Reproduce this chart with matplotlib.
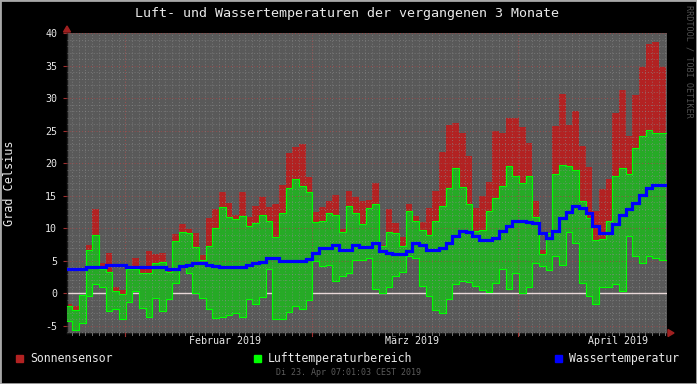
import numpy as np
import matplotlib
matplotlib.use('Agg')
import matplotlib.pyplot as plt
from matplotlib.patches import Rectangle, Polygon

# ---------------- data (daily values, day 0 = 23 Jan 2019) ----------------
sun = [-1.7, -1.9, -0.2, 7.4, 13.0, 4.6, 6.2, 0.9, 0.5, 3.8,
       5.4, 3.7, 6.5, 6.0, 6.2, 3.5, 9.2, 10.7, 9.9, 9.3,
       5.9, 11.6, 13.0, 15.6, 13.9, 12.0, 15.6, 11.7, 13.5, 14.8,
       13.3, 13.8, 16.7, 21.6, 22.5, 22.9, 17.9, 12.5, 13.3, 14.2,
       15.2, 9.9, 15.7, 14.8, 14.2, 14.4, 17.0, 7.5, 13.0, 10.8,
       8.7, 13.8, 11.9, 10.9, 13.1, 15.7, 21.8, 25.9, 26.2, 24.7,
       21.2, 13.1, 15.0, 17.2, 24.9, 24.6, 26.9, 26.9, 25.6, 23.1,
       14.2, 6.7, 9.3, 25.8, 30.7, 25.9, 28.0, 22.7, 19.4, 12.6,
       16.1, 17.6, 27.7, 31.3, 24.2, 30.5, 34.8, 38.4, 38.7, 34.8]

air_max = [-2.0, -2.6, -0.3, 6.6, 8.9, 3.8, 3.3, 0.4, -0.1, 3.8,
           3.8, 3.2, 3.2, 4.7, 4.8, 3.3, 8.0, 9.4, 9.3, 7.1,
           5.2, 7.3, 10.1, 13.3, 11.8, 11.5, 11.9, 10.3, 10.8, 12.0,
           11.2, 8.6, 12.3, 16.2, 17.6, 16.5, 15.6, 10.9, 11.1, 12.3,
           12.1, 9.4, 13.5, 12.4, 10.6, 13.1, 13.7, 7.3, 9.4, 9.3,
           7.3, 12.6, 11.1, 9.7, 8.9, 11.1, 13.5, 16.2, 19.3, 16.4,
           13.7, 9.6, 9.7, 12.6, 14.7, 16.5, 19.6, 18.0, 17.0, 18.1,
           11.8, 6.0, 9.3, 18.4, 19.8, 19.6, 19.0, 14.2, 11.6, 8.2,
           8.3, 11.1, 18.1, 19.3, 18.3, 22.3, 24.2, 25.1, 24.6, 24.7]

air_min = [-4.2, -5.7, -4.5, -0.4, 1.4, 0.9, -2.7, -2.4, -3.9, -1.4,
           0.3, -2.2, -3.7, -0.7, -2.7, -0.9, 1.6, 4.4, 3.1, 0.0,
           -0.7, -2.4, -3.8, -3.7, -3.4, -3.1, -3.7, -0.9, -1.7, -0.5,
           3.7, -4.0, -3.9, -2.9, -1.9, -2.4, -1.0, 5.0, 4.2, 4.4,
           1.9, 2.7, 3.2, 5.2, 5.1, 5.5, 0.7, 0.1, 0.9, 2.7,
           3.3, 5.8, 5.5, 1.1, -0.4, -2.6, -3.1, -0.8, 1.5, 1.9,
           1.7, 1.1, 0.5, 0.2, 1.6, 3.7, 0.7, 3.2, 0.0, 0.9,
           4.6, 4.2, 3.6, 5.8, 4.4, 9.4, 7.8, 1.6, -0.4, -1.7,
           0.9, 1.0, 1.5, 0.4, 8.8, 5.8, 4.7, 5.8, 5.5, 5.1]

water = [3.8, 3.8, 3.8, 4.0, 4.0, 4.0, 4.3, 4.3, 4.3, 4.1,
         4.1, 4.1, 4.1, 4.1, 4.1, 3.8, 3.8, 4.2, 4.4, 4.6,
         4.6, 4.4, 4.2, 4.1, 4.1, 4.1, 4.1, 4.4, 4.6, 4.8,
         5.5, 5.5, 5.0, 5.0, 5.0, 5.0, 5.3, 6.2, 6.9, 6.9,
         7.4, 6.7, 6.7, 7.5, 7.2, 7.2, 7.7, 6.5, 6.2, 6.1,
         6.1, 6.5, 7.7, 7.4, 6.7, 6.7, 7.0, 7.8, 8.8, 9.6,
         9.5, 8.8, 8.2, 8.2, 8.5, 9.6, 10.3, 11.1, 11.1, 11.0,
         10.8, 9.3, 8.5, 9.6, 11.6, 12.5, 13.4, 13.1, 12.3, 10.3,
         9.3, 9.3, 10.6, 12.1, 12.9, 13.9, 15.2, 16.2, 16.7, 16.7]

month_starts = [8.75, 36.75, 67.71]
month_labels = ['Februar 2019', 'März 2019', 'April 2019']
y_ticks = [-5, 0, 5, 10, 15, 20, 25, 30, 35, 40]
legend_labels = ['Sonnensensor', 'Lufttemperaturbereich', 'Wassertemperatur']
title = 'Luft- und Wassertemperaturen der vergangenen 3 Monate'
ylabel = 'Grad Celsius'
footer = 'Di 23. Apr 07:01:03 CEST 2019'
watermark = 'RRDTOOL / TOBI OETIKER'

# ---------------- style ----------------
MONO = 'DejaVu Sans Mono'
C_BG = '#000000'
C_PLOT = '#595959'
C_RED = '#b22222'
C_GREEN = '#26aa26'
C_LGREEN = '#00ff00'
C_BLUE = '#0000ff'
C_TXT = '#e8e8e8'
C_GRID = '#8c8c8c'
C_MGRID = '#a04848'

W, H = 697, 384
fig = plt.figure(figsize=(W / 100, H / 100), dpi=100, facecolor=C_BG)
L, R, T, B = 67, 667, 33, 333
ax = fig.add_axes([L / W, (H - B) / H, (R - L) / W, (B - T) / H])
ax.set_facecolor(C_PLOT)

n = len(sun)
ndays = 90.0
edges = np.clip(np.arange(n + 1) - 0.21, 0, None)


def ext(v):
    v = np.asarray(v, dtype=float)
    return np.append(v, v[-1])


sun_a = np.asarray(sun, float)
mx = np.asarray(air_max, float)
mn = np.asarray(air_min, float)

# zero rule (below the areas)
ax.axhline(0, color='#e8d8d8', lw=1.0, zorder=1)

# sun sensor area
ax.fill_between(edges, ext(mx), ext(np.maximum(sun_a, mx)), step='post',
                color=C_RED, lw=0, zorder=2)
# air temperature range
ax.fill_between(edges, ext(mn), ext(mx), step='post', color=C_GREEN,
                lw=0, zorder=3)

# grid (drawn on top of areas)
for v in np.arange(-6, 41, 1):
    major = (v % 5 == 0)
    if v == 0:
        continue
    ax.axhline(v, color=C_MGRID if major else C_GRID, lw=0.7,
               dashes=(1, 2), alpha=0.9 if major else 0.6, zorder=4)
first_midnight = month_starts[0] % 1.0
for d in np.arange(first_midnight, ndays, 1.0):
    ax.axvline(d, color=C_GRID, lw=0.7, dashes=(1, 2), alpha=0.6, zorder=4)
for m in month_starts:
    ax.axvline(m, color=C_MGRID, lw=0.7, dashes=(1, 2), alpha=0.9, zorder=4)

# bright green boundary lines
ax.step(edges, ext(mn), where='post', color=C_LGREEN, lw=0.8, zorder=5)
ax.step(edges, ext(mx), where='post', color=C_LGREEN, lw=0.8, zorder=5)
# water temperature
ax.step(edges, ext(water), where='post', color=C_BLUE, lw=2.3, zorder=6,
        solid_joinstyle='miter')

ax.set_xlim(0, ndays)
ax.set_ylim(-6.1, 40.05)

for s in ['top', 'right']:
    ax.spines[s].set_visible(False)
for s in ['left', 'bottom']:
    ax.spines[s].set_color('#1a1a1a')
    ax.spines[s].set_linewidth(1.0)

ax.set_yticks(y_ticks)
ax.set_yticklabels([str(t) for t in y_ticks], fontfamily=MONO, fontsize=7.2,
                   color=C_TXT)
ax.tick_params(axis='y', length=3, width=0.8, color='#a03030', pad=4)
ax.set_xticks([])

# month labels
xt = ax.get_xaxis_transform()
for m, lab in zip(month_starts, month_labels):
    ax.text(m + 15, -(341 - B) / (B - T), lab, transform=xt, ha='center',
            va='center', fontfamily=MONO, fontsize=7.2, color=C_TXT)
# small ticks at bottom
for d in np.arange(first_midnight, ndays, 1.0):
    ax.plot([d, d], [0, -2 / (B - T)], transform=xt, color='#707070',
            lw=0.7, clip_on=False, zorder=7)
for m in month_starts:
    ax.plot([m, m], [0, -3 / (B - T)], transform=xt, color='#a03030',
            lw=0.8, clip_on=False, zorder=7)

# axis arrows
ax.add_patch(Polygon([[-3.5 / (R - L), 1.0 + 1 / (B - T)],
                      [3.5 / (R - L), 1.0 + 1 / (B - T)],
                      [0, 1.0 + 7 / (B - T)]], closed=True,
                     transform=ax.transAxes, color='#a02020',
                     clip_on=False, zorder=8))
ax.add_patch(Polygon([[1.0 + 1 / (R - L), -3.5 / (B - T)],
                      [1.0 + 1 / (R - L), 3.5 / (B - T)],
                      [1.0 + 7 / (R - L), 0]], closed=True,
                     transform=ax.transAxes, color='#a02020',
                     clip_on=False, zorder=8))

# texts
fig.text(347 / W, 1 - 14 / H, title, ha='center', va='center',
         fontfamily=MONO, fontsize=9.6, color=C_TXT)
fig.text(10 / W, 1 - 183 / H, ylabel, ha='center', va='center',
         rotation=90, fontfamily=MONO, fontsize=8.5, color=C_TXT)
fig.text(349 / W, 1 - 372.5 / H, footer, ha='center', va='center',
         fontfamily=MONO, fontsize=6.0, color='#5c5c5c')
fig.text(689 / W, 1 - 61 / H, watermark, ha='center', va='center',
         rotation=270, fontfamily=MONO, fontsize=6.1, color='#505050')

# legend
leg_sq_x = [16, 254, 555]
leg_txt_x = [30, 268, 569]
leg_cols = [C_RED, C_LGREEN, C_BLUE]
for sx, tx, col, lab in zip(leg_sq_x, leg_txt_x, leg_cols, legend_labels):
    fig.patches.append(Rectangle((sx / W, 1 - 362 / H), 7 / W, 7 / H,
                                 transform=fig.transFigure, color=col))
    fig.text(tx / W, 1 - 358.5 / H, lab, ha='left', va='center',
             fontfamily=MONO, fontsize=8.3, color=C_TXT)

# frame
fig.patches.append(Rectangle((0, 0), 1, 1, transform=fig.transFigure,
                             fill=False, edgecolor='#a8a8a8', linewidth=2.0))

fig.savefig('out.png', dpi=100, facecolor=C_BG)
